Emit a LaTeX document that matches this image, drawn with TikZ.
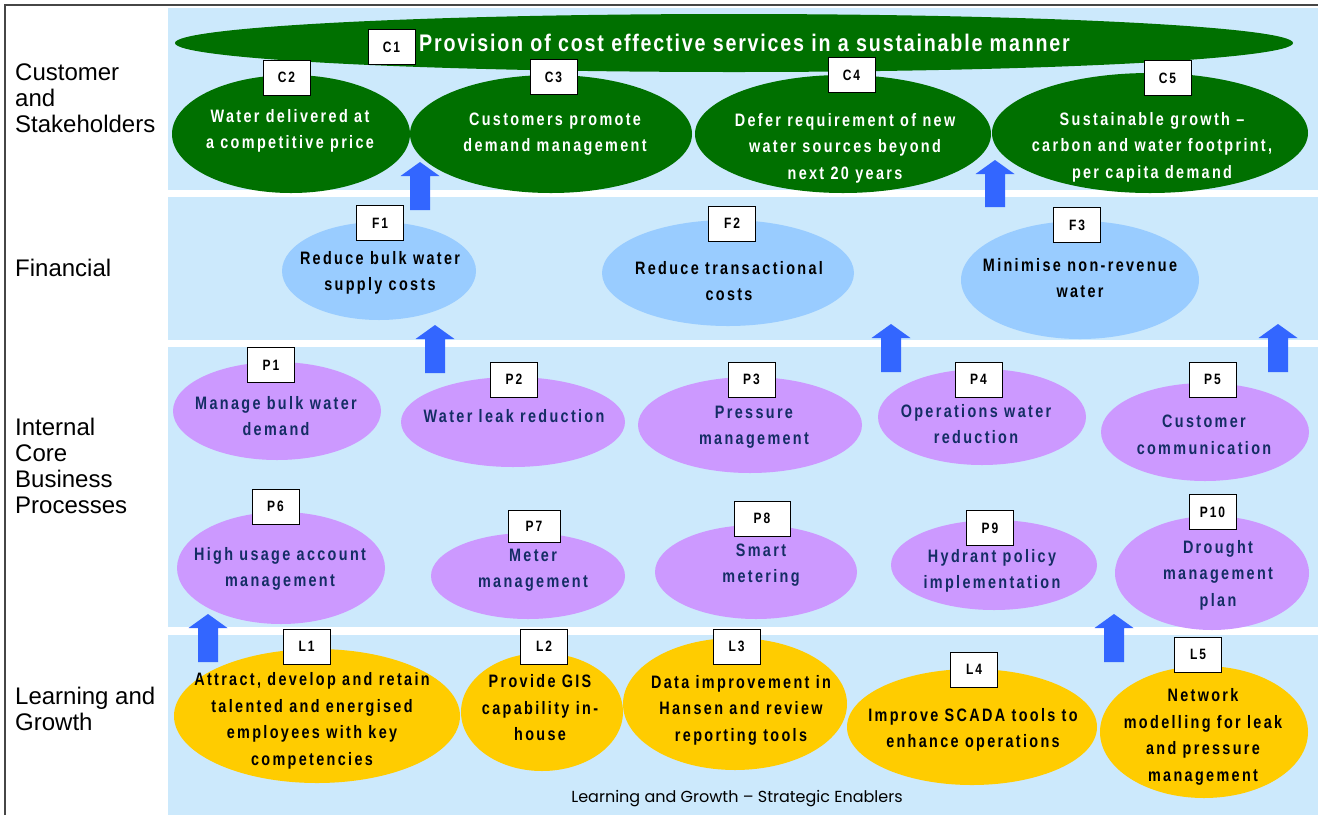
\documentclass[tikz,border=0pt]{standalone}
\usepackage{fontspec}
\setmainfont{Liberation Sans}
\newfontfamily\nb[FakeStretch=0.8,LetterSpace=13]{Liberation Sans}
\newfontfamily\nbc[FakeStretch=0.82,LetterSpace=7.5]{Liberation Sans}
\newfontfamily\gothic{Poppins}
\usetikzlibrary{shapes.geometric}
\definecolor{bandblue}{RGB}{204,233,252}
\definecolor{cgreen}{RGB}{0,112,0}
\definecolor{fblue}{RGB}{153,204,255}
\definecolor{plav}{RGB}{204,153,255}
\definecolor{lgold}{RGB}{255,204,0}
\definecolor{arrowblue}{RGB}{51,102,255}
\definecolor{navy}{RGB}{20,45,100}
\definecolor{framegray}{RGB}{70,70,70}
\newcommand\uparr[3]{\fill[blockarrow] (#1-10,#3) -- (#1-10,#2+14) -- (#1-19.5,#2+14) -- (#1,#2) -- (#1+19.5,#2+14) -- (#1+10,#2+14) -- (#1+10,#3) -- cycle;}
\begin{document}
\begin{tikzpicture}[x=1pt,y=-1pt,
  band/.style={fill=bandblue,draw=none},
  oval/.style={ellipse,draw=none,inner sep=0pt},
  ctext/.style={align=center,inner sep=0pt,font=\nb\bfseries\fontsize{18}{26.5}\selectfont},
  tag/.style={draw=black,line width=0.9pt,fill=white,minimum width=47pt,minimum height=35pt,inner sep=0pt,font=\nb\bfseries\fontsize{15}{15}\selectfont},
  side/.style={anchor=west,align=left,inner sep=0pt,font=\fontsize{24}{26}\selectfont},
  blockarrow/.style={fill=arrowblue,draw=none}]
\useasboundingbox (0,0) rectangle (1318,815);
\fill[white] (0,0) rectangle (1318,815);
% bands
\fill[band] (168,8) rectangle (1318,190);
\fill[band] (168,197) rectangle (1318,340);
\fill[band] (168,347) rectangle (1318,627);
\fill[band] (168,635) rectangle (1318,815);
% frame
\draw[framegray,line width=1.5pt] (5,815) -- (5,5) -- (1318,5);
% side labels
\node[side] (lcs) at (15,98) {Customer\\and\\Stakeholders};
\node[side] (lfin) at (15,268) {Financial};
\node[side] (lint) at (15,466) {Internal\\Core\\Business\\Processes};
\node[side] (llg) at (15,709) {Learning and\\Growth};
% customer
\node[oval,fill=cgreen,minimum width=1118pt,minimum height=58pt] (c1) at (734,43) {};
\node[oval,fill=cgreen,minimum width=238pt,minimum height=118pt] (c2) at (291,134) {};
\node[oval,fill=cgreen,minimum width=282pt,minimum height=118pt] (c3) at (551,134) {};
\node[oval,fill=cgreen,minimum width=296pt,minimum height=118pt] (c4) at (843,134) {};
\node[oval,fill=cgreen,minimum width=316pt,minimum height=120pt] (c5) at (1150,133) {};
\node[ctext,text=white,font=\nbc\bfseries\fontsize{24}{26}\selectfont] (c1t) at (744.5,43) {Provision of cost effective services in a sustainable manner};
\node[ctext,text=white] (c2t) at (290,131) {Water delivered at\\a competitive price};
\node[ctext,text=white] (c3t) at (555,134) {Customers promote\\demand management};
\node[ctext,text=white] (c4t) at (845,148) {Defer requirement of new\\water sources beyond\\next 20 years};
\node[ctext,text=white] (c5t) at (1152,147) {Sustainable growth –\\carbon and water footprint,\\per capita demand};
% financial
\node[oval,fill=fblue,minimum width=194pt,minimum height=98pt] (f1) at (379,271) {};
\node[oval,fill=fblue,minimum width=252pt,minimum height=106pt] (f2) at (728,273) {};
\node[oval,fill=fblue,minimum width=238pt,minimum height=118pt] (f3) at (1080,280) {};
\node[ctext] (f1t) at (380,273) {Reduce bulk water\\supply costs};
\node[ctext] (f2t) at (729,281) {Reduce transactional\\costs};
\node[ctext] (f3t) at (1080,278) {Minimise non-revenue\\water};
% internal
\node[oval,fill=plav,minimum width=208pt,minimum height=98pt] (p1) at (277,411) {};
\node[oval,fill=plav,minimum width=224pt,minimum height=90pt] (p2) at (513,422) {};
\node[oval,fill=plav,minimum width=224pt,minimum height=96pt] (p3) at (750,425) {};
\node[oval,fill=plav,minimum width=208pt,minimum height=96pt] (p4) at (982,417) {};
\node[oval,fill=plav,minimum width=208pt,minimum height=98pt] (p5) at (1205,432) {};
\node[oval,fill=plav,minimum width=208pt,minimum height=112pt] (p6) at (281,568) {};
\node[oval,fill=plav,minimum width=194pt,minimum height=86pt] (p7) at (528,576) {};
\node[oval,fill=plav,minimum width=202pt,minimum height=94pt] (p8) at (756,572) {};
\node[oval,fill=plav,minimum width=206pt,minimum height=90pt] (p9) at (994,565) {};
\node[oval,fill=plav,minimum width=194pt,minimum height=114pt] (p10) at (1212,573) {};
\node[ctext,text=navy] (p1t) at (276,416) {Manage bulk water\\demand};
\node[ctext,text=navy] (p2t) at (514,416) {Water leak reduction};
\node[ctext,text=navy] (p3t) at (754,427) {Pressure\\management};
\node[ctext,text=navy] (p4t) at (976,424) {Operations water\\reduction};
\node[ctext,text=navy] (p5t) at (1204,435) {Customer\\communication};
\node[ctext,text=navy] (p6t) at (280,569) {High usage account\\management};
\node[ctext,text=navy] (p7t) at (533,570) {Meter\\management};
\node[ctext,text=navy] (p8t) at (761,565) {Smart\\metering};
\node[ctext,text=navy] (p9t) at (992,571) {Hydrant policy\\implementation};
\node[ctext,text=navy] (p10t) at (1218,575) {Drought\\management\\plan};
% learning
\node[oval,fill=lgold,minimum width=286pt,minimum height=134pt] (l1) at (317,716) {};
\node[oval,fill=lgold,minimum width=162pt,minimum height=118pt] (l2) at (542,712) {};
\node[oval,fill=lgold,minimum width=224pt,minimum height=132pt] (l3) at (735,704) {};
\node[oval,fill=lgold,minimum width=250pt,minimum height=116pt] (l4) at (972,727) {};
\node[oval,fill=lgold,minimum width=208pt,minimum height=132pt] (l5) at (1204,732) {};
\node[ctext] (l1t) at (312,721) {Attract, develop and retain\\talented and energised\\employees with key\\competencies};
\node[ctext] (l2t) at (540,708) {Provide GIS\\capability in-\\house};
\node[ctext] (l3t) at (741,710) {Data improvement in\\Hansen and review\\reporting tools};
\node[ctext] (l4t) at (973,730) {Improve SCADA tools to\\enhance operations};
\node[ctext] (l5t) at (1203,737) {Network\\modelling for leak\\and pressure\\management};
\node[inner sep=0pt,font=\gothic\fontsize{16}{16}\selectfont] (foot) at (737,799) {Learning and Growth – Strategic Enablers};
% arrows
\uparr{420}{162}{210}
\uparr{995}{160}{207}
\uparr{435}{325}{373}
\uparr{891}{324}{372}
\uparr{1278}{324}{372}
\uparr{208}{614}{662}
\uparr{1114}{614}{662}
% tags
\node[tag] (c1b) at (391.5,47) {C1};
\node[tag] (c2b) at (286.5,77.5) {C2};
\node[tag] (c3b) at (553.5,77) {C3};
\node[tag] (c4b) at (851.5,75) {C4};
\node[tag] (c5b) at (1167.5,78) {C5};
\node[tag] (f1b) at (380,223) {F1};
\node[tag] (f2b) at (732,223.5) {F2};
\node[tag] (f3b) at (1077,225) {F3};
\node[tag] (p1b) at (271,365) {P1};
\node[tag] (p2b) at (514,379.5) {P2};
\node[tag] (p3b) at (751.5,379.5) {P3};
\node[tag] (p4b) at (978.5,379.5) {P4};
\node[tag] (p5b) at (1212.5,379.5) {P5};
\node[tag] (p6b) at (275.5,506.5) {P6};
\node[tag,minimum width=52pt,minimum height=32pt] (p7b) at (534,526) {P7};
\node[tag,minimum width=56pt] (p8b) at (762,518.5) {P8};
\node[tag] (p9b) at (990,528) {P9};
\node[tag] (p10b) at (1212.5,512) {P10};
\node[tag] (l1b) at (306.5,646.5) {L1};
\node[tag] (l2b) at (544,646.5) {L2};
\node[tag] (l3b) at (736.5,646.5) {L3};
\node[tag] (l4b) at (974,669.5) {L4};
\node[tag] (l5b) at (1198,654.5) {L5};
\end{tikzpicture}
\end{document}
